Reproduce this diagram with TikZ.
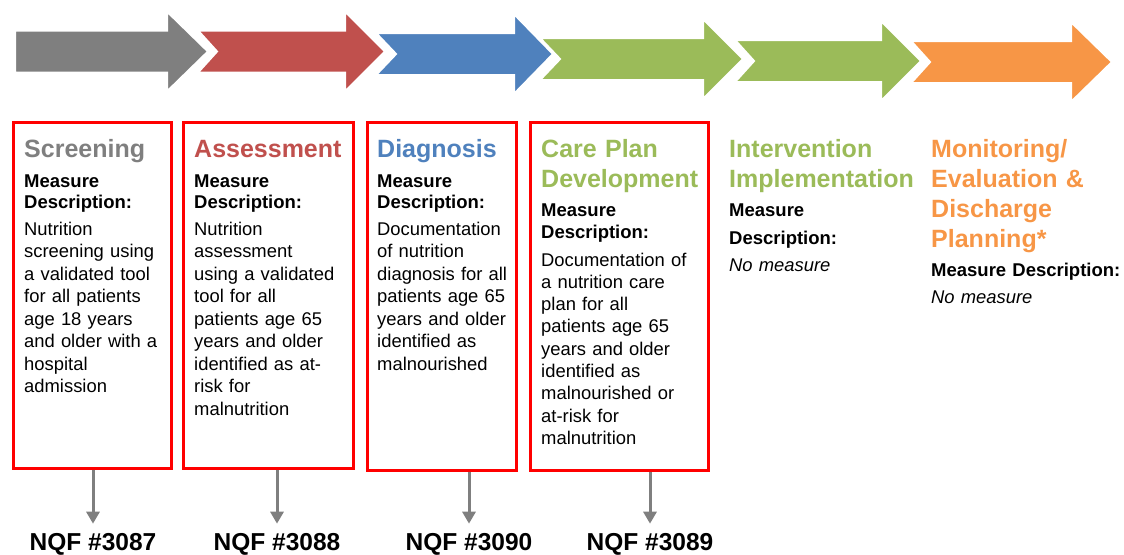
\documentclass[tikz,border=0pt]{standalone}
\usepackage{fontspec}
\setmainfont{Liberation Sans}
\usetikzlibrary{arrows.meta,positioning}

\definecolor{stepgray}{HTML}{7F7F7F}
\definecolor{stepred}{HTML}{C0504D}
\definecolor{stepblue}{HTML}{4F81BD}
\definecolor{stepgreen}{HTML}{9BBB59}
\definecolor{steporange}{HTML}{F79646}
\definecolor{boxred}{HTML}{FF0000}

\begin{document}
\begin{tikzpicture}[
  x=1pt, y=-1pt,
  phase/.style={anchor=base west, inner sep=0pt, text width=200pt, align=left,
                font=\fontsize{25}{30}\selectfont\bfseries},
  measlbl/.style={anchor=base west, inner sep=0pt, text width=200pt, align=left,
                  font=\fontsize{18.5}{21}\selectfont\bfseries},
  desc/.style={anchor=base west, inner sep=0pt, text width=200pt, align=left,
               font=\fontsize{18.4}{22.5}\selectfont},
  mbox/.style={draw=boxred, line width=3pt, inner sep=0pt},
  nqf/.style={anchor=base, inner sep=0pt, font=\fontsize{24.5}{28}\selectfont\bfseries},
  link/.style={draw=stepgray, line width=3pt, shorten >=9pt,
               -{Triangle[width=13pt,length=12pt]}}
]
\useasboundingbox (0,0) rectangle (1124,554);

% process arrows along the top
\foreach \xa/\xh/\xt/\ym/\nt/\col in {15/167/208/51.5/0/stepgray,
    198/345/385/51.5/19/stepred, 376/514/553/54/20/stepblue,
    540/703/743/59/20/stepgreen, 735/881/921/61/19/stepgreen,
    911/1071/1112/62/19/steporange}
  \filldraw[fill=\col, draw=white, line width=2pt]
    (\xa,\ym-21) -- (\xh,\ym-21) -- (\xh,\ym-40) -- (\xt,\ym)
    -- (\xh,\ym+40) -- (\xh,\ym+21) -- (\xa,\ym+21) -- (\xa+\nt,\ym) -- cycle;

% measure boxes
\node[mbox, minimum width=158pt, minimum height=346pt] (box1) at (92.5,295.5) {};
\node[mbox, minimum width=170pt, minimum height=346pt] (box2) at (268.5,295.5) {};
\node[mbox, minimum width=149pt, minimum height=348pt] (box3) at (442,296.5) {};
\node[mbox, minimum width=178pt, minimum height=348pt] (box4) at (619.5,296.5) {};

% Screening
\node[phase, text=stepgray] (scr) at (24,157) {Screening};
\node[measlbl] (scrm) at (24,187) {Measure\\Description:};
\node[desc] (scrd) at (24,235) {Nutrition\\screening using\\a validated tool\\for all patients\\age 18 years\\and older with a\\hospital\\admission};

% Assessment
\node[phase, text=stepred] (ass) at (194,157) {Assessment};
\node[measlbl] (assm) at (194,187) {Measure\\Description:};
\node[desc] (assd) at (194,235) {Nutrition\\assessment\\using a validated\\tool for all\\patients age 65\\years and older\\identified as at-\\risk for\\malnutrition};

% Diagnosis
\node[phase, text=stepblue] (dia) at (377,157) {Diagnosis};
\node[measlbl] (diam) at (377,187) {Measure\\Description:};
\node[desc] (diad) at (377,235) {Documentation\\of nutrition\\diagnosis for all\\patients age 65\\years and older\\identified as\\malnourished};

% Care plan
\node[phase, text=stepgreen] (care) at (541,157) {Care Plan\\Development};
\node[measlbl, font=\fontsize{18.5}{22}\selectfont\bfseries] (carem) at (541,216) {Measure\\Description:};
\node[desc, font=\fontsize{18.4}{22.3}\selectfont] (cared) at (541,266) {Documentation of\\a nutrition care\\plan for all\\patients age 65\\years and older\\identified as\\malnourished or\\at-risk for\\malnutrition};

% Intervention
\node[phase, text=stepgreen] (intv) at (729,157) {Intervention\\Implementation};
\node[measlbl, font=\fontsize{18.5}{28}\selectfont\bfseries] (intvm) at (729,216) {Measure\\Description:};
\node[desc, font=\fontsize{18.4}{22.5}\selectfont\itshape] (intvd) at (729,271) {No measure};

% Monitoring
\node[phase, text=steporange] (mon) at (931,157) {Monitoring/\\Evaluation \&\\Discharge\\Planning*};
\node[measlbl] (monm) at (931,276) {Measure Description:};
\node[desc, font=\fontsize{18.4}{22.5}\selectfont\itshape] (mond) at (931,303) {No measure};

% NQF numbers
\node[nqf] (nqf1) at (93,550) {NQF \#3087};
\node[nqf] (nqf2) at (277,550) {NQF \#3088};
\node[nqf] (nqf3) at (469,550) {NQF \#3090};
\node[nqf] (nqf4) at (650,550) {NQF \#3089};

\draw[link] (box1.south -| nqf1.north) -- (nqf1.north);
\draw[link] (box2.south -| nqf2.north) -- (nqf2.north);
\draw[link] (box3.south -| nqf3.north) -- (nqf3.north);
\draw[link] (box4.south -| nqf4.north) -- (nqf4.north);

\end{tikzpicture}
\end{document}
